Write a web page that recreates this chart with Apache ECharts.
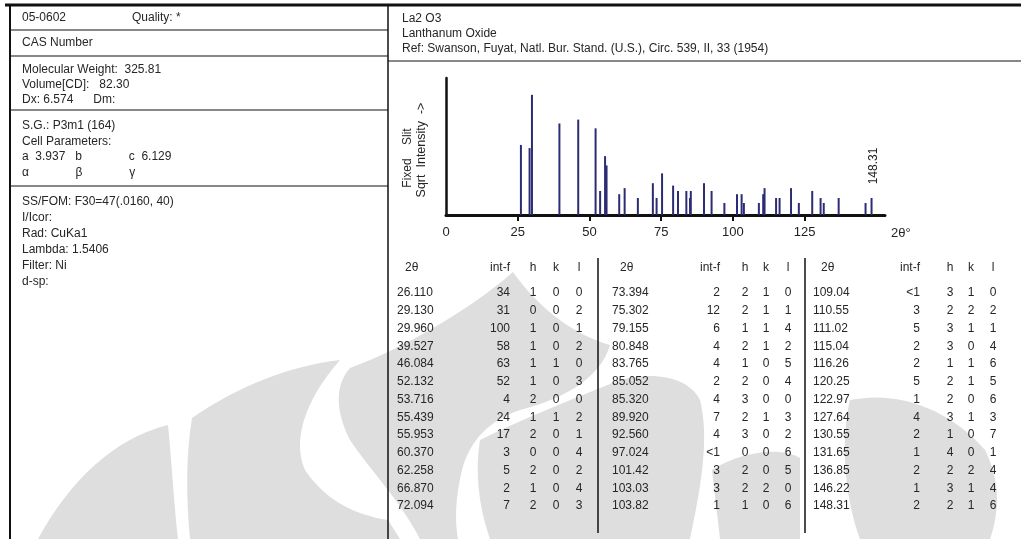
<!DOCTYPE html>
<html><head><meta charset="utf-8">
<script src="https://cdn.jsdelivr.net/npm/echarts@6/dist/echarts.min.js"></script>
<style>html,body{margin:0;padding:0;background:#fff}#c{width:1021px;height:539px}</style>
</head><body><div id="c"></div>
<script>
// ---- data ----
const twoTheta = ['26.110','29.130','29.960','39.527','46.084','52.132','53.716','55.439','55.953','60.370','62.258','66.870','72.094',
  '73.394','75.302','79.155','80.848','83.765','85.052','85.320','89.920','92.560','97.024','101.42','103.03','103.82',
  '109.04','110.55','111.02','115.04','116.26','120.25','122.97','127.64','130.55','131.65','136.85','146.22','148.31'];
const intensity = ['34','31','100','58','63','52','4','24','17','3','5','2','7',
  '2','12','6','4','4','2','4','7','4','<1','3','3','1',
  '<1','3','5','2','2','5','1','4','2','1','2','1','2'];
const hIdx = [1,0,1,1,1,1,2,1,2,0,2,1,2, 2,2,1,2,1,2,3,2,3,0,2,2,1, 3,2,3,3,1,2,2,3,1,4,2,3,2];
const kIdx = [0,0,0,0,1,0,0,1,0,0,0,0,0, 1,1,1,1,0,0,0,1,0,0,0,2,0, 1,2,1,0,1,1,0,1,0,0,2,1,1];
const lIdx = [0,2,1,2,0,3,0,2,1,4,2,4,3, 0,1,4,2,5,4,0,3,2,6,5,0,6, 0,2,1,4,6,5,6,3,7,1,4,4,6];
const xTicks = [0,25,50,75,100,125];
const leftInfo = [
  ['05-0602', 'Quality: *'],
  ['CAS Number'],
  ['Molecular Weight:  325.81', 'Volume[CD]:   82.30', 'Dx: 6.574      Dm:'],
  ['S.G.: P3m1 (164)', 'Cell Parameters:', 'a  3.937   b              c  6.129', 'α              β              γ'],
  ['SS/FOM: F30=47(.0160, 40)', 'I/Icor:', 'Rad: CuKa1', 'Lambda: 1.5406', 'Filter: Ni', 'd-sp:']
];
const headerInfo = ['La2 O3', 'Lanthanum Oxide', 'Ref: Swanson, Fuyat, Natl. Bur. Stand. (U.S.), Circ. 539, II, 33 (1954)'];
const yTitle = ['Fixed    Slit', 'Sqrt  Intensity  ->'];

const intValue = s => s.charAt(0) === '<' ? Number(s.slice(1)) : Number(s);
const peaks = twoTheta.map((t, i) => [Number(t), Math.sqrt(intValue(intensity[i]))]);

// ---- layout / decoration ----
const FONT = '"Liberation Sans", Arial, sans-serif';
const TXT = '#262626';
const g = [];
// faint background watermark outlines
const WM = '#dedede';
const watermarkPaths = [
  'M38,539 C70,480 115,438 168,425 C172,465 174,505 178,539 Z',
  'M190,539 C186,495 186,455 192,418 C240,385 290,366 340,360 C305,400 292,440 305,470 C325,500 355,515 388,520 L400,539 Z',
  'M350,368 C400,350 470,310 513,272 C540,310 575,335 610,345 C600,380 560,400 520,410 C490,420 470,440 462,470 C455,500 455,520 458,539 L420,539 C400,500 370,470 350,440 C335,410 335,385 350,368 Z',
  'M480,440 C520,420 570,400 620,380 C660,370 690,380 700,400 C710,440 700,490 690,539 L490,539 C478,505 475,470 480,440 Z',
  'M850,400 C900,390 950,410 985,450 C1000,480 1000,510 990,539 L860,539 C845,500 840,440 850,400 Z',
  'M712,470 C740,452 780,446 800,458 L800,539 L720,539 Z'
];

function line(x1, y1, x2, y2, w) {
  g.push({type: 'line', silent: true, shape: {x1, y1, x2, y2}, style: {stroke: '#111', lineWidth: w || 1}, z: 10});
}
function text(str, x, y, opt, extra) {
  g.push(Object.assign({type: 'text', silent: true, x, y, style: Object.assign({text: str, fill: TXT, font: '12px ' + FONT, textVerticalAlign: 'middle', textAlign: 'left'}, opt || {}), z: 10}, extra || {}));
}
// frame
line(5, 5, 1021, 5, 3);
line(10, 5, 10, 539, 2);
line(388, 5, 388, 539, 1.5);
// left panel separators
[30, 56, 110, 186].forEach(y => line(10, y, 388, y, 1.2));
line(388, 61, 1021, 61, 1.2);
// left panel texts
text(leftInfo[0][0], 22, 18); text(leftInfo[0][1], 132, 18);
text(leftInfo[1][0], 22, 43);
leftInfo[2].forEach((s, i) => text(s, 22, 70 + i * 15));
leftInfo[3].forEach((s, i) => text(s, 22, 126 + i * 15.5));
leftInfo[4].forEach((s, i) => text(s, 22, 202 + i * 16));
// right header
headerInfo.forEach((s, i) => text(s, 402, 19 + i * 15));
// y-axis title (rotated, reading upward)
text(yTitle[0], 408, 158, {textAlign: 'center'}, {rotation: Math.PI / 2});
text(yTitle[1], 422, 150, {textAlign: 'center', font: '12.5px ' + FONT}, {rotation: Math.PI / 2});
// axis end label
text('2θ°', 891, 233, {font: '13px ' + FONT});
// table
const groups = [
  {x2t: 397, xi: 510, xh: 533, xk: 556, xl: 579},
  {x2t: 612, xi: 720, xh: 745, xk: 766, xl: 788},
  {x2t: 813, xi: 920, xh: 950, xk: 971, xl: 993}
];
const rowsPer = 13, rowTop = 293, rowH = 17.75;
groups.forEach((gr, gi) => {
  text('2θ', gr.x2t + 8, 268);
  text('int-f', gr.xi, 268, {textAlign: 'right'});
  text('h', gr.xh, 268, {textAlign: 'center'});
  text('k', gr.xk, 268, {textAlign: 'center'});
  text('l', gr.xl, 268, {textAlign: 'center'});
  for (let r = 0; r < rowsPer; r++) {
    const i = gi * rowsPer + r;
    if (i >= twoTheta.length) break;
    const y = rowTop + r * rowH;
    text(twoTheta[i], gr.x2t, y);
    text(intensity[i], gr.xi, y, {textAlign: 'right'});
    text(String(hIdx[i]), gr.xh, y, {textAlign: 'center'});
    text(String(kIdx[i]), gr.xk, y, {textAlign: 'center'});
    text(String(lIdx[i]), gr.xl, y, {textAlign: 'center'});
  }
});
line(598, 258, 598, 533, 1.5);
line(805, 258, 805, 533, 1.5);

const chart = echarts.init(document.getElementById('c'));
const lastIdx = peaks.length - 1;
chart.setOption({
  animation: false,
  backgroundColor: '#fff',
  graphic: g,
  grid: {left: 446, right: 136, top: 78, bottom: 324, containLabel: false},
  xAxis: {
    type: 'value', min: 0, max: 153,
    axisLine: {show: true, lineStyle: {color: '#111', width: 3}},
    axisTick: {show: true, length: 6, lineStyle: {color: '#111', width: 2}, customValues: xTicks.slice(1)},
    axisLabel: {customValues: xTicks, margin: 11, color: '#222', fontSize: 13, fontFamily: 'Liberation Sans'},
    splitLine: {show: false}
  },
  yAxis: {
    type: 'value', min: 0, max: 11.4,
    axisLine: {show: true, lineStyle: {color: '#111', width: 2.5}},
    axisTick: {show: false}, axisLabel: {show: false}, splitLine: {show: false}
  },
  series: [{
    type: 'custom',
    coordinateSystem: 'none',
    silent: true,
    z: 0,
    data: [0],
    renderItem: () => ({type: 'group', children: watermarkPaths.map(d => ({type: 'path', shape: {pathData: d}, style: {fill: WM}}))})
  }, {
    type: 'custom',
    data: peaks,
    z: 5,
    renderItem: (params, api) => {
      const p0 = api.coord([api.value(0), 0]);
      const p1 = api.coord([api.value(0), api.value(1)]);
      const children = [{type: 'line', shape: {x1: p0[0], y1: p0[1], x2: p1[0], y2: p1[1]}, style: {stroke: '#2c2c74', lineWidth: 2}}];
      if (params.dataIndex === lastIdx) {
        children.push({type: 'text', x: p1[0] + 2, y: p1[1] - 32, rotation: Math.PI / 2,
          style: {text: twoTheta[lastIdx], fill: '#222', font: '12px ' + FONT, textAlign: 'center', textVerticalAlign: 'middle'}});
      }
      return {type: 'group', children};
    }
  }]
});
</script></body></html>
